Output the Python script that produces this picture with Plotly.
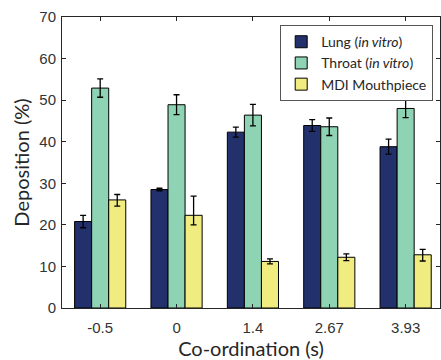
import plotly.graph_objects as go

categories = ["-0.5", "0", "1.4", "2.67", "3.93"]
lung = [20.8, 28.5, 42.3, 43.9, 38.8]
lung_err = [1.5, 0.3, 1.2, 1.4, 1.8]
throat = [52.9, 48.9, 46.4, 43.6, 48.0]
throat_err = [2.2, 2.4, 2.6, 2.1, 2.2]
mdi = [26.0, 22.3, 11.2, 12.2, 12.8]
mdi_err_plus = [1.3, 4.6, 0.6, 0.8, 1.3]
mdi_err_minus = [1.5, 2.3, 0.6, 0.8, 1.5]
yticks = [0, 10, 20, 30, 40, 50, 60, 70]

x = list(range(1, len(categories) + 1))
eb = dict(color="black", thickness=1.3, width=3)
line = dict(color="black", width=1)

fig = go.Figure()
fig.add_trace(go.Bar(x=x, y=lung, name="Lung (<i>in vitro</i>)",
                     marker=dict(color="#22306C", line=line),
                     error_y=dict(type="data", array=lung_err, **eb)))
fig.add_trace(go.Bar(x=x, y=throat, name="Throat (<i>in vitro</i>)",
                     marker=dict(color="#8FD3B5", line=line),
                     error_y=dict(type="data", array=throat_err, **eb)))
fig.add_trace(go.Bar(x=x, y=mdi, name="MDI Mouthpiece",
                     marker=dict(color="#F1EC80", line=line),
                     error_y=dict(type="data", array=mdi_err_plus,
                                  arrayminus=mdi_err_minus, symmetric=False, **eb)))

axis_common = dict(showline=True, linecolor="#262626", linewidth=1, mirror="ticks",
                   ticks="inside", ticklen=4, tickcolor="#262626", showgrid=False,
                   zeroline=False,
                   tickfont=dict(family="Liberation Sans, Arial", size=15, color="#333333"))

fig.update_layout(
    width=441, height=360,
    margin=dict(l=62, r=1, t=17, b=52),
    paper_bgcolor="white", plot_bgcolor="white",
    barmode="group", bargap=0.33, bargroupgap=0,
    xaxis=dict(range=[0.5, 5.45], tickmode="array", tickvals=x, ticktext=categories,
               ticklabelstandoff=6,
               title=dict(text="Co-ordination (s)", standoff=4,
                          font=dict(family="Lato", size=20, color="#262626")),
               **axis_common),
    yaxis=dict(range=[0, 70], tickmode="array", tickvals=yticks,
               ticklabelstandoff=2,
               title=dict(text="Deposition (%)", standoff=4,
                          font=dict(family="Lato", size=20, color="#262626")),
               **axis_common),
    legend=dict(x=0.982, y=0.972, xanchor="right", yanchor="top",
                bgcolor="white", bordercolor="#555555", borderwidth=1,
                font=dict(family="Lato", size=14, color="#262626"),
                tracegroupgap=0, itemwidth=30),
    showlegend=True,
)

fig.write_html("out.html", post_script="document.body.style.margin='0';",
               config={"displayModeBar": False})
